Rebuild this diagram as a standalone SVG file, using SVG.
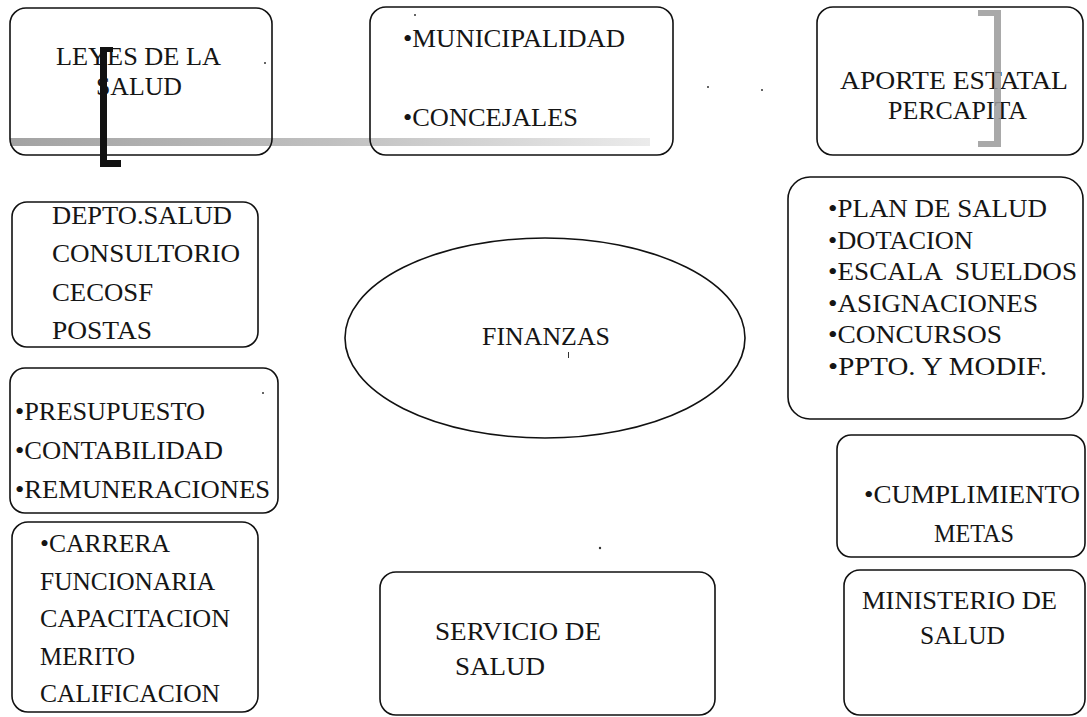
<svg xmlns="http://www.w3.org/2000/svg" width="1087" height="717" viewBox="0 0 1087 717">
<style>
.box{fill:none;stroke:#111;stroke-width:1.6}
.t{font-family:"Liberation Serif","Times New Roman",serif;font-size:25px;fill:#151515}
.dot{fill:#333}
</style>
<defs>
<linearGradient id="smear" x1="0" y1="0" x2="1" y2="0">
<stop offset="0" stop-color="#8c8c8c"/>
<stop offset="0.5" stop-color="#b0b0b0"/>
<stop offset="1" stop-color="#e6e6e6"/>
</linearGradient>
</defs>
<rect width="1087" height="717" fill="#fff"/>

<g id="smear-band">
<rect x="10" y="138" width="640" height="8" fill="url(#smear)" opacity="0.8"/>
</g>

<g id="leyes">
<rect class="box" x="10" y="8" width="262" height="147" rx="16"/>
<text class="t" x="56" y="65" textLength="165" lengthAdjust="spacingAndGlyphs">LEYES DE LA</text>
<text class="t" x="96" y="95" textLength="86" lengthAdjust="spacingAndGlyphs">SALUD</text>
</g>
<g id="bracket-black">
<path d="M100 47 H113 V52 H107 V160 H121 V167 H100 Z" fill="#111"/>
</g>

<g id="municipalidad">
<rect class="box" x="370" y="7" width="303" height="148" rx="16"/>
<text class="t" x="403" y="47" textLength="222" lengthAdjust="spacingAndGlyphs">•MUNICIPALIDAD</text>
<text class="t" x="403" y="126" textLength="175" lengthAdjust="spacingAndGlyphs">•CONCEJALES</text>
</g>

<g id="aporte">
<rect class="box" x="817" y="7" width="266" height="148" rx="16"/>
<text class="t" x="840" y="89" textLength="228" lengthAdjust="spacingAndGlyphs">APORTE ESTATAL</text>
<text class="t" x="888" y="119" textLength="139" lengthAdjust="spacingAndGlyphs">PERCAPITA</text>
</g>
<g id="bracket-gray">
<path d="M978 10 H1001 V147 H978 V141 H994 V16 H978 Z" fill="#9a9a9a" opacity="0.85"/>
</g>

<g id="depto">
<rect class="box" x="12" y="202" width="246" height="145" rx="15"/>
<text class="t" x="52" y="224" textLength="180" lengthAdjust="spacingAndGlyphs">DEPTO.SALUD</text>
<text class="t" x="52" y="262" textLength="188" lengthAdjust="spacingAndGlyphs">CONSULTORIO</text>
<text class="t" x="52" y="301" textLength="101" lengthAdjust="spacingAndGlyphs">CECOSF</text>
<text class="t" x="52" y="339" textLength="100" lengthAdjust="spacingAndGlyphs">POSTAS</text>
</g>

<g id="presupuesto">
<rect class="box" x="10" y="368" width="268" height="145" rx="15"/>
<text class="t" x="15" y="420" textLength="190" lengthAdjust="spacingAndGlyphs">•PRESUPUESTO</text>
<text class="t" x="15" y="459" textLength="208" lengthAdjust="spacingAndGlyphs">•CONTABILIDAD</text>
<text class="t" x="15" y="498" textLength="255" lengthAdjust="spacingAndGlyphs">•REMUNERACIONES</text>
</g>

<g id="carrera">
<rect class="box" x="12" y="522" width="246" height="190" rx="16"/>
<text class="t" x="40" y="552" textLength="130" lengthAdjust="spacingAndGlyphs">•CARRERA</text>
<text class="t" x="40" y="590" textLength="175" lengthAdjust="spacingAndGlyphs">FUNCIONARIA</text>
<text class="t" x="40" y="627" textLength="190" lengthAdjust="spacingAndGlyphs">CAPACITACION</text>
<text class="t" x="40" y="665" textLength="95" lengthAdjust="spacingAndGlyphs">MERITO</text>
<text class="t" x="40" y="702" textLength="180" lengthAdjust="spacingAndGlyphs">CALIFICACION</text>
</g>

<g id="finanzas">
<ellipse class="box" cx="545" cy="338" rx="200" ry="100"/>
<text class="t" x="482" y="345" textLength="128" lengthAdjust="spacingAndGlyphs">FINANZAS</text>
</g>

<g id="plan">
<rect class="box" x="788" y="177" width="295" height="242" rx="22"/>
<text class="t" x="828" y="217" textLength="219" lengthAdjust="spacingAndGlyphs">•PLAN DE SALUD</text>
<text class="t" x="828" y="249" textLength="145" lengthAdjust="spacingAndGlyphs">•DOTACION</text>
<text class="t" x="828" y="280" textLength="249" lengthAdjust="spacingAndGlyphs" xml:space="preserve">•ESCALA  SUELDOS</text>
<text class="t" x="828" y="312" textLength="210" lengthAdjust="spacingAndGlyphs">•ASIGNACIONES</text>
<text class="t" x="828" y="343" textLength="174" lengthAdjust="spacingAndGlyphs">•CONCURSOS</text>
<text class="t" x="828" y="375" textLength="219" lengthAdjust="spacingAndGlyphs">•PPTO. Y MODIF.</text>
</g>

<g id="cumplimiento">
<rect class="box" x="837" y="435" width="248" height="122" rx="14"/>
<text class="t" x="864" y="503" textLength="216" lengthAdjust="spacingAndGlyphs">•CUMPLIMIENTO</text>
<text class="t" x="934" y="542" textLength="80" lengthAdjust="spacingAndGlyphs">METAS</text>
</g>

<g id="servicio">
<rect class="box" x="380" y="572" width="335" height="143" rx="16"/>
<text class="t" x="435" y="640" textLength="166" lengthAdjust="spacingAndGlyphs">SERVICIO DE</text>
<text class="t" x="455" y="675" textLength="90" lengthAdjust="spacingAndGlyphs">SALUD</text>
</g>

<g id="ministerio">
<rect class="box" x="844" y="570" width="241" height="145" rx="16"/>
<text class="t" x="862" y="609" textLength="195" lengthAdjust="spacingAndGlyphs">MINISTERIO DE</text>
<text class="t" x="920" y="644" textLength="85" lengthAdjust="spacingAndGlyphs">SALUD</text>
</g>

<g id="connectors"></g>

<g id="specks">
<circle class="dot" cx="415" cy="15" r="1"/>
<circle class="dot" cx="265" cy="63" r="1"/>
<circle class="dot" cx="708" cy="87" r="1"/>
<circle class="dot" cx="762" cy="90" r="1"/>
<circle class="dot" cx="263" cy="393" r="1"/>
<circle class="dot" cx="600" cy="548" r="1.2"/>
<rect class="dot" x="568" y="352" width="1" height="6"/>
</g>
</svg>
